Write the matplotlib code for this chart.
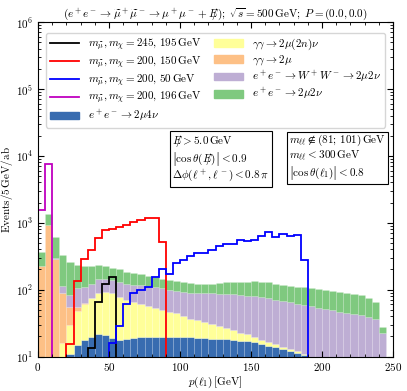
import numpy as np
import matplotlib
matplotlib.use('Agg')
import matplotlib.pyplot as plt
from matplotlib.ticker import FuncFormatter, MultipleLocator, LogLocator
from matplotlib.patches import Patch
from matplotlib.lines import Line2D

plt.rcParams['mathtext.fontset'] = 'cm'
plt.rcParams['font.family'] = 'serif'
plt.rcParams['font.serif'] = ['DejaVu Serif']

# 5 GeV bins, left edges 0 - 240 GeV
edges = np.arange(0, 245, 5)

# backgrounds (stacked from bottom), events / 5 GeV / ab
bkg_2mu4nu = [0, 0, 0, 0, 11, 14.8, 17.6, 19.8, 21.7, 20.9,
              18.6, 17.6, 18, 18.6, 19.3, 19.3, 19.8, 19.8, 19.8, 19.3,
              19.3, 19.3, 19, 18.6, 18.3, 18.3, 18, 17.6, 17.2, 17.2,
              16.4, 15.5, 14.4, 13.7, 12.9, 12.1, 11.4, 10.5, 0, 0,
              0, 0, 0, 0, 0, 0, 0, 0, 0]
bkg_gg2mu2nnu = [0, 0, 0, 15.7, 18.5, 33.2, 44.4, 54.2, 66.3, 72.1,
                 71.4, 60.4, 52, 47.4, 42.7, 37.7, 34.2, 29.2, 27.2, 24.7,
                 20.7, 17.7, 16, 13.8, 12.2, 10.2, 8.9, 7.3, 5.2, 4.2,
                 3.2, 2.1, 2.0, 1.5, 1.1, 0.7, 0.5, 0.4, 0, 0,
                 0, 0, 0, 0, 0, 0, 0, 0, 0]
bkg_gg2mu = [227, 918, 282, 72, 25.5, 7, 0.5, 0, 0, 0,
             0, 0, 0, 0, 0, 0, 0, 0, 0, 0,
             0, 0, 0, 0, 0, 0, 0, 0, 0, 0,
             0, 0, 0, 0, 0, 0, 0, 0, 0, 0,
             0, 0, 0, 0, 0, 0, 0, 0, 0]
bkg_ww = [0, 0, 20, 26, 28, 49, 47.5, 47, 54, 52,
          48, 53, 53, 53, 55, 55, 56, 58, 53, 52,
          53, 53, 55, 57.6, 57.5, 58.5, 59, 60, 60.6, 59.6,
          61, 60.4, 59, 55.8, 54, 53.2, 50, 48, 57, 53.5,
          51.5, 49.4, 46.7, 44, 42.6, 41.7, 38.5, 35.9, 22.2]
bkg_2mu2nu = [132, 422, 301, 213, 177, 128, 114, 103, 90, 81,
              76, 71, 62, 59, 53, 46, 42, 36, 38, 39,
              38, 36, 33, 33, 35, 39, 42, 44, 48, 51,
              52.5, 54, 53.5, 52, 51, 49, 48, 49, 47, 48.5,
              47.5, 44.6, 46.3, 46, 43.9, 40.3, 37, 29.1, 5.1]

# signals
sig_245_195_edges = [35, 40, 45, 50, 55]
sig_245_195 = [13.4, 65, 123, 156]
sig_200_150_edges = np.arange(20, 95, 5)
sig_200_150 = [15.2, 135, 290, 389, 600, 790, 815, 870, 935, 1025, 1115, 1180, 1190, 515]
sig_200_50_edges = np.arange(50, 195, 5)
sig_200_50 = [15.8, 28.5, 61, 88, 100, 108, 152, 200, 171, 251,
              280, 318, 355, 347, 389, 445, 473, 473, 550, 536,
              550, 630, 725, 615, 672, 630, 650, 276]
sig_200_196_edges = [0, 5, 10]
sig_200_196 = [1550, 7600]

fig = plt.figure(figsize=(4.07, 3.91), dpi=100)
ax = fig.add_axes([0.0934, 0.0882, 0.8722, 0.8555])

bkgs = [(bkg_2mu4nu, '#386cb0'), (bkg_gg2mu2nnu, '#ffff99'), (bkg_gg2mu, '#fdc086'),
        (bkg_ww, '#beaed4'), (bkg_2mu2nu, '#7fc97f')]
bottom = np.zeros(len(edges))
for vals, col in bkgs:
    vals = np.array(vals, dtype=float)
    ax.bar(edges, vals, width=5, align='edge', bottom=bottom + 1e-3, color=col,
           edgecolor=(1, 1, 1, 0.2), linewidth=0.4)
    bottom = bottom + vals

sigs = [(sig_245_195_edges, sig_245_195, 'black'),
        (sig_200_150_edges, sig_200_150, 'red'),
        (sig_200_50_edges, sig_200_50, 'blue'),
        (sig_200_196_edges, sig_200_196, 'm')]
for e, v, col in sigs:
    ax.stairs(v, e, baseline=1e-3, color=col, linewidth=1.3)

ax.set_yscale('log')
ax.set_xlim(0, 250)
ax.set_ylim(10, 1e6)
ax.xaxis.set_major_locator(MultipleLocator(50))
ax.xaxis.set_minor_locator(MultipleLocator(10))
ax.yaxis.set_minor_locator(LogLocator(base=10, subs=np.arange(2, 10)))
ax.xaxis.set_major_formatter(FuncFormatter(lambda v, p: r'$%d$' % v))
ax.yaxis.set_major_formatter(FuncFormatter(lambda v, p: r'$10^{%d}$' % round(np.log10(v))))
ax.tick_params(which='both', direction='in', top=True, right=True, labelsize=8)
ax.tick_params(which='major', length=4)
ax.tick_params(which='minor', length=2)

ax.set_xlabel(r'$p(\ell_1)\,[\mathrm{GeV}]$', fontsize=8, labelpad=1)
ax.set_ylabel(r'$\mathrm{Events/5\,GeV/ab}$', fontsize=8, labelpad=1)
ax.set_title(r'$(e^+e^- \to \widetilde{\mu}^+\widetilde{\mu}^- \to \mu^+\mu^- + E\!\!\!/);\ '
             r'\sqrt{s} = 500\,\mathrm{GeV};\ P = (0.0,0.0)$', fontsize=8, pad=4)

handles = [Line2D([], [], color='black', lw=1.3), Line2D([], [], color='red', lw=1.3),
           Line2D([], [], color='blue', lw=1.3), Line2D([], [], color='m', lw=1.3),
           Patch(color='#386cb0'), Patch(color='#ffff99'), Patch(color='#fdc086'),
           Patch(color='#beaed4'), Patch(color='#7fc97f')]
labels = [r'$m_{\widetilde{\mu}}, m_{\chi} = 245,\,195\,\mathrm{GeV}$',
          r'$m_{\widetilde{\mu}}, m_{\chi} = 200,\,150\,\mathrm{GeV}$',
          r'$m_{\widetilde{\mu}}, m_{\chi} = 200,\,50\,\mathrm{GeV}$',
          r'$m_{\widetilde{\mu}}, m_{\chi} = 200,\,196\,\mathrm{GeV}$',
          r'$e^+e^- \to 2\mu 4\nu$',
          r'$\gamma\gamma \to 2\mu(2n)\nu$',
          r'$\gamma\gamma \to 2\mu$',
          r'$e^+e^- \to W^+W^- \to 2\mu 2\nu$',
          r'$e^+e^- \to 2\mu 2\nu$']
ax.legend(handles, labels, ncol=2, loc='upper center', fontsize=8,
          bbox_to_anchor=(0.5, 0.985), columnspacing=1.2, handlelength=2.6,
          labelspacing=0.12, borderpad=0.35)

ax.text(0.378, 0.668, r'$E\!\!\!/ > 5.0\,\mathrm{GeV}$' + '\n' +
        r'$\left|\cos\theta(E\!\!\!/)\right| < 0.9$' + '\n' +
        r'$\Delta\phi(\ell^+,\ell^-) < 0.8\,\pi$',
        transform=ax.transAxes, fontsize=8, va='top', ha='left', linespacing=1.05,
        zorder=10,
        bbox=dict(boxstyle='square,pad=0.2', fc='white', ec='black', lw=0.8))
ax.text(0.707, 0.668, r'$m_{\ell\ell} \notin (81;\,101)\,\mathrm{GeV}$' + '\n' +
        r'$m_{\ell\ell} < 300\,\mathrm{GeV}$' + '\n' +
        r'$\left|\cos\theta(\ell_1)\right| < 0.8$',
        transform=ax.transAxes, fontsize=8, va='top', ha='left', linespacing=1.05,
        zorder=10,
        bbox=dict(boxstyle='square,pad=0.2', fc='white', ec='black', lw=0.8))

fig.savefig('out.png', dpi=100)
